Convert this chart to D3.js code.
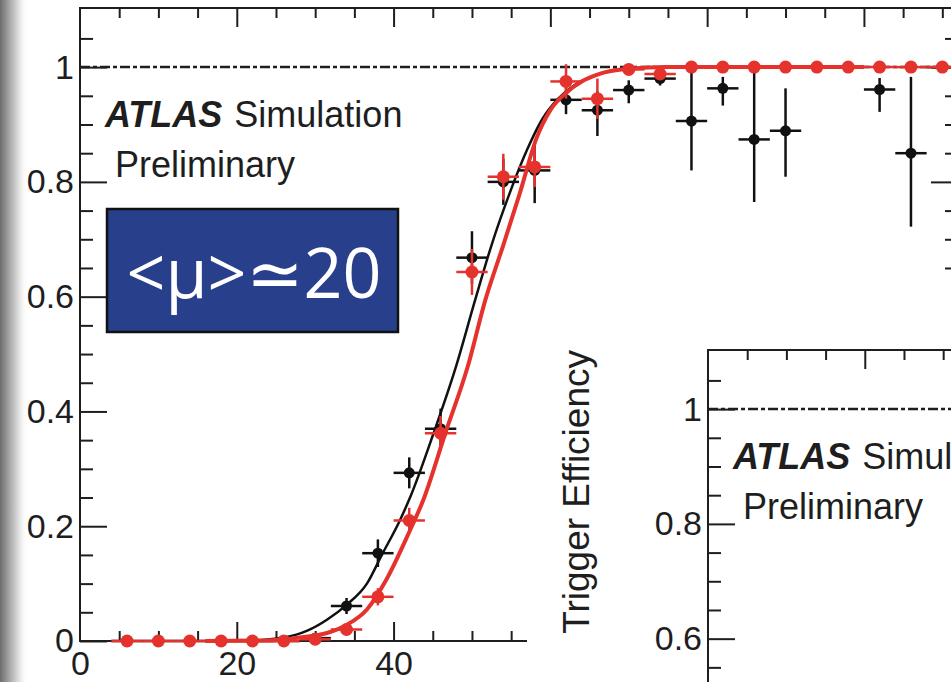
<!DOCTYPE html>
<html>
<head>
<meta charset="utf-8">
<script src="https://cdn.jsdelivr.net/npm/d3@7"></script>
<style>
  body { margin: 0; background: #fff; }
  svg { display: block; }
</style>
</head>
<body>
<svg id="chart" width="951" height="682"></svg>
<script>

/////////////////////////////////
// DATA
//////////////////////////////////

var binCenters = [6, 10, 14, 18, 22, 26, 30, 34, 38, 42, 46, 50, 54, 58, 62, 66, 70, 74, 78, 82, 86, 90, 94, 98, 102, 106, 110];
var binHalfWidth = 2;

// black points
var blackEff   = [0, 0, 0, 0, 0, 0, 0.005, 0.061, 0.153, 0.293, 0.37, 0.668, 0.80, 0.82, 0.943, 0.925, 0.96, 0.98, 0.906, 0.963, 0.874, 0.889, 1, 1, 0.961, 0.85, 1];
var blackErrLo = [0, 0, 0, 0, 0, 0, 0.005, 0.014, 0.024, 0.027, 0.035, 0.046, 0.04, 0.057, 0.025, 0.045, 0.023, 0.012, 0.086, 0.03, 0.109, 0.08, 0, 0, 0.039, 0.128, 0];
var blackErrHi = [0, 0, 0, 0, 0, 0, 0.005, 0.014, 0.024, 0.027, 0.035, 0.046, 0.04, 0.05, 0.025, 0.033, 0.017, 0.01, 0.094, 0.02, 0.126, 0.074, 0, 0, 0.02, 0.133, 0];

// red points
var redEff = [0, 0, 0, 0, 0, 0, 0.003, 0.02, 0.077, 0.21, 0.362, 0.643, 0.809, 0.826, 0.975, 0.945, 0.996, 0.988, 1, 1, 1, 1, 1, 1, 1, 1, 1];
var redErr = [0, 0, 0, 0, 0, 0, 0.003, 0.008, 0.015, 0.022, 0.03, 0.04, 0.04, 0.035, 0.03, 0.035, 0.01, 0.01, 0, 0, 0, 0, 0, 0, 0, 0, 0];

// fit curves
var blackFitX = [16, 22, 26, 29, 31.5, 34, 36.6, 38.5, 40.8, 42.1, 45.1, 48, 50.4, 52.5, 54.8, 57, 59, 61, 63, 66, 70, 75, 100];
var blackFitY = [0, 0.001, 0.006, 0.018, 0.037, 0.063, 0.10, 0.15, 0.21, 0.25, 0.362, 0.48, 0.594, 0.69, 0.78, 0.855, 0.91, 0.945, 0.968, 0.987, 0.997, 1, 1];

var redFitX = [16, 24, 28, 31.5, 34, 36.6, 39, 42, 43.8, 46.6, 49.5, 51.7, 54, 56.1, 58.2, 60, 62, 64, 66, 70, 75, 100];
var redFitY = [0, 0.001, 0.006, 0.014, 0.028, 0.055, 0.105, 0.19, 0.246, 0.362, 0.48, 0.594, 0.69, 0.78, 0.875, 0.925, 0.955, 0.975, 0.987, 0.997, 1, 1];

// ticks
var yMajorTicks = [0, 0.2, 0.4, 0.6, 0.8, 1];
var yMinorTicks = [0.05, 0.1, 0.15, 0.25, 0.3, 0.35, 0.45, 0.5, 0.55, 0.65, 0.7, 0.75, 0.85, 0.9, 0.95, 1.05];
var xMajorTicks = [20, 40, 60, 80, 100];
var xMinorTicks = [5, 10, 15, 25, 30, 35, 45, 50, 55, 65, 70, 75, 85, 90, 95, 105, 110];
var xLabelTicks = [0, 20, 40];

var insetYMajor = [0.6, 0.8, 1];
var insetYMinor = [0.55, 0.65, 0.7, 0.75, 0.85, 0.9, 0.95, 1.05];
var insetXMajor = [20];
var insetXMinor = [5, 10, 15, 25, 30];

var muLabel = "<μ>≃20";


/////////////////////////////////
// SET STATIC VARIABLES
//////////////////////////////////

var frame = {left: 80, top: 8, right: 958, bottom: 641};
var insetShift = {x: 628, y: 342};
var ink = "#1e1e1e";
var red = "#e5322c";
var fontFam = "'Liberation Sans', Arial, Helvetica, sans-serif";

var x = d3.scaleLinear().domain([0, 112]).range([frame.left, frame.right]);
var y = d3.scaleLinear().domain([0, 1.103]).range([frame.bottom, frame.top]);

var svg = d3.select("#chart");

var defs = svg.append("defs");
var grad = defs.append("linearGradient").attr("id", "shadow")
  .attr("x1", 0).attr("x2", 1).attr("y1", 0).attr("y2", 0);
grad.append("stop").attr("offset", 0).attr("stop-color", "#6c6c6c").attr("stop-opacity", 1);
grad.append("stop").attr("offset", 0.35).attr("stop-color", "#a9a9a9").attr("stop-opacity", 1);
grad.append("stop").attr("offset", 0.7).attr("stop-color", "#e4e4e4").attr("stop-opacity", 1);
grad.append("stop").attr("offset", 1).attr("stop-color", "#ffffff").attr("stop-opacity", 0);

defs.append("clipPath").attr("id", "insetClip")
  .append("rect").attr("x", 527).attr("y", 285).attr("width", 424).attr("height", 397);


/////////////////////////////////
// FRAME + AXES (ROOT style, ticks inward)
//////////////////////////////////

function styleAxis(sel, size) {
  sel.select(".domain").remove();
  sel.attr("color", ink)
    .attr("font-size", size)
    .attr("font-family", fontFam);
  sel.selectAll("line").attr("stroke-width", 2);
}

function drawFrame(g, o) {

  // dashed line at 1
  g.append("line")
    .attr("x1", frame.left).attr("x2", frame.right)
    .attr("y1", y(1)).attr("y2", y(1))
    .attr("stroke", ink).attr("stroke-width", 2.5)
    .attr("stroke-dasharray", "10,3,4,3");

  // left
  g.append("g").attr("transform", "translate(" + frame.left + ",0)")
    .call(d3.axisLeft(y).tickValues(o.yMajor).tickSize(-27).tickPadding(6).tickFormat(d3.format("~g")))
    .call(styleAxis, 34);
  g.append("g").attr("transform", "translate(" + frame.left + ",0)")
    .call(d3.axisLeft(y).tickValues(o.yMinor).tickSize(-13).tickFormat(""))
    .call(styleAxis, 34);

  // top
  g.append("g").attr("transform", "translate(0," + frame.top + ")")
    .call(d3.axisTop(x).tickValues(o.xMajor).tickSize(-19).tickFormat(""))
    .call(styleAxis, 34);
  g.append("g").attr("transform", "translate(0," + frame.top + ")")
    .call(d3.axisTop(x).tickValues(o.xMinor).tickSize(-10).tickFormat(""))
    .call(styleAxis, 34);

  if (o.full) {
    // right
    g.append("g").attr("transform", "translate(" + frame.right + ",0)")
      .call(d3.axisRight(y).tickValues(o.yMajor).tickSize(-27).tickFormat(""))
      .call(styleAxis, 34);
    g.append("g").attr("transform", "translate(" + frame.right + ",0)")
      .call(d3.axisRight(y).tickValues(o.yMinor).tickSize(-13).tickFormat(""))
      .call(styleAxis, 34);

    // bottom
    g.append("g").attr("transform", "translate(0," + frame.bottom + ")")
      .call(d3.axisBottom(x).tickValues(o.xMajor).tickSize(-19).tickFormat(""))
      .call(styleAxis, 34);
    g.append("g").attr("transform", "translate(0," + frame.bottom + ")")
      .call(d3.axisBottom(x).tickValues(o.xMinor).tickSize(-10).tickFormat(""))
      .call(styleAxis, 34);
    g.append("g").attr("transform", "translate(0," + frame.bottom + ")")
      .call(d3.axisBottom(x).tickValues(xLabelTicks).tickSize(0).tickPadding(10).tickFormat(d3.format("~g")))
      .call(styleAxis, 34);
  }

  // frame box
  g.append("rect")
    .attr("x", frame.left).attr("y", frame.top)
    .attr("width", frame.right - frame.left).attr("height", frame.bottom - frame.top)
    .attr("fill", "none").attr("stroke", ink).attr("stroke-width", 2);

  // ATLAS labels
  var t = g.append("text")
    .attr("x", frame.left + 25).attr("y", y(1) + 60)
    .attr("font-family", fontFam).attr("font-size", 36).attr("fill", ink);
  t.append("tspan").attr("font-weight", "bold").attr("font-style", "italic").text("ATLAS");
  t.append("tspan").attr("dx", 12).text("Simulation");

  g.append("text")
    .attr("x", frame.left + 35).attr("y", y(1) + 110)
    .attr("font-family", fontFam).attr("font-size", 36).attr("fill", ink)
    .text("Preliminary");

  if (o.title) {
    g.append("text")
      .attr("transform", "translate(" + (frame.left - 119) + "," + frame.top + ") rotate(-90)")
      .attr("text-anchor", "end")
      .attr("font-family", fontFam).attr("font-size", 37).attr("fill", ink)
      .text("Trigger Efficiency");
  }
}


/////////////////////////////////
// MAIN PLOT
//////////////////////////////////

var main = svg.append("g").attr("class", "main");

drawFrame(main, {
  yMajor: yMajorTicks, yMinor: yMinorTicks,
  xMajor: xMajorTicks, xMinor: xMinorTicks,
  full: true, title: false
});

var blackPts = binCenters.map(function(c, i) {
  return {x: c, v: blackEff[i], lo: blackErrLo[i], hi: blackErrHi[i]};
});
var redPts = binCenters.map(function(c, i) {
  return {x: c, v: redEff[i], lo: redErr[i], hi: redErr[i]};
});

function drawPoints(g, pts, color, r, sw) {
  var p = g.append("g").selectAll("g").data(pts).enter().append("g");
  p.append("line")
    .attr("x1", function(d) { return x(d.x - binHalfWidth); })
    .attr("x2", function(d) { return x(d.x + binHalfWidth); })
    .attr("y1", function(d) { return y(d.v); })
    .attr("y2", function(d) { return y(d.v); })
    .attr("stroke", color).attr("stroke-width", sw);
  p.filter(function(d) { return d.lo + d.hi > 0; })
    .append("line")
    .attr("x1", function(d) { return x(d.x); })
    .attr("x2", function(d) { return x(d.x); })
    .attr("y1", function(d) { return y(d.v - d.lo); })
    .attr("y2", function(d) { return y(d.v + d.hi); })
    .attr("stroke", color).attr("stroke-width", sw);
  p.append("circle")
    .attr("cx", function(d) { return x(d.x); })
    .attr("cy", function(d) { return y(d.v); })
    .attr("r", r)
    .attr("fill", color);
}

var line = d3.line()
  .x(function(d) { return x(d[0]); })
  .y(function(d) { return y(d[1]); })
  .curve(d3.curveMonotoneX);

drawPoints(main, blackPts, "#111", 5.5, 2.5);

main.append("path")
  .datum(blackFitX.map(function(v, i) { return [v, blackFitY[i]]; }))
  .attr("d", line)
  .attr("fill", "none").attr("stroke", "#111").attr("stroke-width", 2.5);

drawPoints(main, redPts, red, 6.5, 2.5);

main.append("path")
  .datum(redFitX.map(function(v, i) { return [v, redFitY[i]]; }))
  .attr("d", line)
  .attr("fill", "none").attr("stroke", red).attr("stroke-width", 4);


/////////////////////////////////
// THE <mu> BOX
//////////////////////////////////

svg.append("rect")
  .attr("x", 107).attr("y", 209).attr("width", 291).attr("height", 123)
  .attr("fill", "#283f8b").attr("stroke", "#111").attr("stroke-width", 2.5);

svg.append("text")
  .attr("x", 254).attr("y", 298)
  .attr("text-anchor", "middle")
  .attr("font-family", "'Open Sans', 'Noto Sans', 'DejaVu Sans', sans-serif")
  .attr("font-size", 70)
  .attr("fill", "#fff")
  .attr("textLength", 255).attr("lengthAdjust", "spacingAndGlyphs")
  .text(muLabel);


/////////////////////////////////
// INSET (second plot pasted on top)
//////////////////////////////////

var insetOuter = svg.append("g").attr("clip-path", "url(#insetClip)");
insetOuter.append("rect")
  .attr("x", 527).attr("y", 285).attr("width", 424).attr("height", 397)
  .attr("fill", "#fff");

var inset = insetOuter.append("g")
  .attr("transform", "translate(" + insetShift.x + "," + insetShift.y + ")");

drawFrame(inset, {
  yMajor: insetYMajor, yMinor: insetYMinor,
  xMajor: insetXMajor, xMinor: insetXMinor,
  full: false, title: true
});


/////////////////////////////////
// SLIDE SHADOW ON THE LEFT
//////////////////////////////////

svg.append("rect")
  .attr("x", 0).attr("y", 0).attr("width", 28).attr("height", 682)
  .attr("fill", "url(#shadow)");

</script>
</body>
</html>
